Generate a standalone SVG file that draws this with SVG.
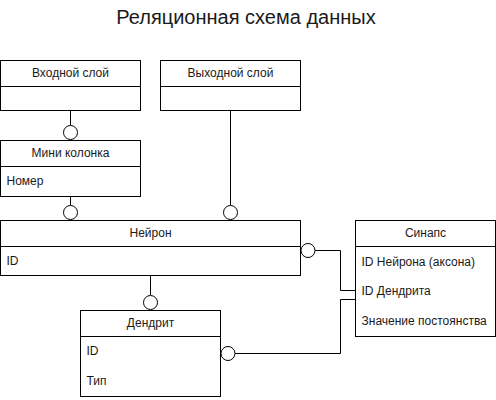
<svg xmlns="http://www.w3.org/2000/svg" width="496" height="400" viewBox="0 0 496 400">
<style>
.box{fill:#fff;stroke:#000;stroke-width:1}
.ln{fill:none;stroke:#000;stroke-width:1}
.c{fill:#fff;stroke:#000;stroke-width:1}
.h{font-family:"Liberation Sans",Arial,sans-serif;font-size:12px;fill:#1a1a1a;text-anchor:middle}
.t{font-family:"Liberation Sans",Arial,sans-serif;font-size:12px;fill:#1a1a1a}
.title{font-family:"Liberation Sans",Arial,sans-serif;font-size:20px;fill:#1a1a1a;text-anchor:middle}
</style>
<rect width="496" height="400" fill="#fff"/>
<text class="title" x="246" y="24">Реляционная схема данных</text>
<g id="connectors">
<path class="ln" d="M70.5 110 V125"/>
<circle class="c" cx="70.5" cy="132.5" r="7"/>
<path class="ln" d="M70.5 196 V205"/>
<circle class="c" cx="70.5" cy="212.5" r="7"/>
<path class="ln" d="M230.5 110 V205"/>
<circle class="c" cx="230.5" cy="212.5" r="7"/>
<path class="ln" d="M150.5 276 V295"/>
<circle class="c" cx="150.5" cy="302.5" r="7"/>
<path class="ln" d="M315 250.5 H340.5 V290.5 H355"/>
<circle class="c" cx="308" cy="250.5" r="7"/>
<path class="ln" d="M355 299.5 H340.5 V353.5 H235"/>
<circle class="c" cx="228" cy="353.5" r="7"/>
</g>
<g id="vhod">
<rect class="box" x="0.5" y="60.5" width="140" height="50"/>
<path class="ln" d="M0.5 86.5 H140.5"/>
<text class="h" x="70.5" y="77">Входной слой</text>
</g>
<g id="vyhod">
<rect class="box" x="160.5" y="60.5" width="140" height="50"/>
<path class="ln" d="M160.5 86.5 H300.5"/>
<text class="h" x="230.5" y="77">Выходной слой</text>
</g>
<g id="mini">
<rect class="box" x="0.5" y="140.5" width="140" height="56"/>
<path class="ln" d="M0.5 166.5 H140.5"/>
<text class="h" x="70.5" y="157">Мини колонка</text>
<text class="t" x="6.5" y="185">Номер</text>
</g>
<g id="neuron">
<rect class="box" x="0.5" y="220.5" width="300" height="55"/>
<path class="ln" d="M0.5 246.5 H300.5"/>
<text class="h" x="150.5" y="237">Нейрон</text>
<text class="t" x="6.5" y="265">ID</text>
</g>
<g id="sinaps">
<rect class="box" x="355.5" y="220.5" width="140" height="116"/>
<path class="ln" d="M355.5 246.5 H495.5"/>
<text class="h" x="425.5" y="237">Синапс</text>
<text class="t" x="361.5" y="266">ID Нейрона (аксона)</text>
<text class="t" x="361.5" y="295">ID Дендрита</text>
<text class="t" x="361.5" y="325">Значение постоянства</text>
</g>
<g id="dendrit">
<rect class="box" x="80.5" y="310.5" width="140" height="86"/>
<path class="ln" d="M80.5 336.5 H220.5"/>
<text class="h" x="150.5" y="327">Дендрит</text>
<text class="t" x="86.5" y="355">ID</text>
<text class="t" x="86.5" y="385">Тип</text>
</g>
</svg>
